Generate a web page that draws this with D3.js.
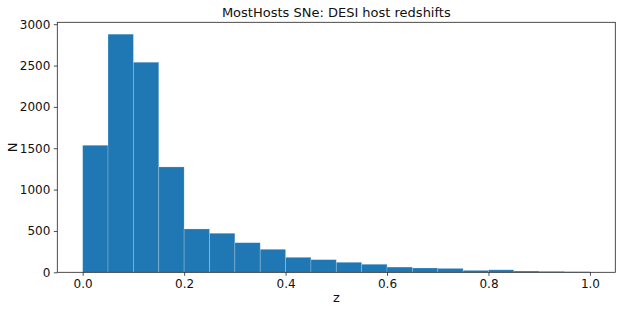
<!DOCTYPE html>
<html>
<head>
<meta charset="utf-8">
<script src="https://cdn.jsdelivr.net/npm/d3@7"></script>
<style>
  html, body { margin: 0; padding: 0; background: #fff; }
  svg { display: block; font-family: "DejaVu Sans", sans-serif; }
</style>
</head>
<body>
<div id="chart"></div>
<script>
// histogram bins: z from 0 to 1 in steps of 0.05
const binEdges = d3.range(0, 21).map(i => i * 0.05);
const counts = [1536, 2879, 2540, 1274, 524, 472, 358, 278, 181, 153,
                121, 97, 63, 52, 47, 23, 30, 15, 11, 7];
const xTicks = [0, 0.2, 0.4, 0.6, 0.8, 1.0];
const yTicks = [0, 500, 1000, 1500, 2000, 2500, 3000];

const width = 623, height = 312;
const margin = { top: 22.3, right: 7.7, bottom: 39.7, left: 57.3 };
const innerW = width - margin.left - margin.right;
const innerH = height - margin.top - margin.bottom;

const svg = d3.select("#chart").append("svg")
  .attr("width", width)
  .attr("height", height);

const g = svg.append("g")
  .attr("transform", `translate(${margin.left},${margin.top})`);

// matplotlib style 5% padding on x, 5% headroom on y
const x = d3.scaleLinear().domain([-0.05, 1.05]).range([0, innerW]);
const y = d3.scaleLinear().domain([0, d3.max(counts) * 1.05]).range([innerH, 0]);

const bins = counts.map((c, i) => ({ x0: binEdges[i], x1: binEdges[i + 1], n: c }));

g.selectAll("rect.bar")
  .data(bins)
  .join("rect")
  .attr("class", "bar")
  .attr("x", d => x(d.x0))
  .attr("y", d => y(d.n))
  .attr("width", d => x(d.x1) - x(d.x0))
  .attr("height", d => y(0) - y(d.n))
  .attr("fill", "#1f77b4")
  .attr("stroke", "rgba(255,255,255,0.25)")
  .attr("stroke-width", 0.8);

// axes
const xAxis = g.append("g")
  .attr("transform", `translate(0,${innerH})`)
  .call(d3.axisBottom(x).tickValues(xTicks).tickFormat(d3.format(".1f")).tickSizeOuter(0).tickSize(3.5).tickPadding(3.5));

const yAxis = g.append("g")
  .call(d3.axisLeft(y).tickValues(yTicks).tickFormat(d3.format("d")).tickSizeOuter(0).tickSize(3.5).tickPadding(3.5));

[xAxis, yAxis].forEach(a => {
  a.select(".domain").remove();
  a.selectAll("line").attr("stroke", "#222").attr("stroke-width", 0.8);
  a.selectAll("text")
    .attr("fill", "#111")
    .style("font-family", "'DejaVu Sans', sans-serif")
    .style("font-size", "12px");
});

// spines
g.append("rect")
  .attr("x", 0).attr("y", 0)
  .attr("width", innerW).attr("height", innerH)
  .attr("fill", "none")
  .attr("stroke", "#222")
  .attr("stroke-width", 0.8);

// labels
svg.append("text")
  .attr("x", margin.left + innerW / 2)
  .attr("y", 17)
  .attr("text-anchor", "middle")
  .attr("font-size", "13px")
  .attr("fill", "#111")
  .text("MostHosts SNe: DESI host redshifts");

svg.append("text")
  .attr("x", margin.left + innerW / 2)
  .attr("y", 302)
  .attr("text-anchor", "middle")
  .attr("font-size", "13px")
  .attr("fill", "#111")
  .text("z");

svg.append("text")
  .attr("transform", `translate(17,${margin.top + innerH / 2}) rotate(-90)`)
  .attr("text-anchor", "middle")
  .attr("font-size", "13px")
  .attr("fill", "#111")
  .text("N");
</script>
</body>
</html>
